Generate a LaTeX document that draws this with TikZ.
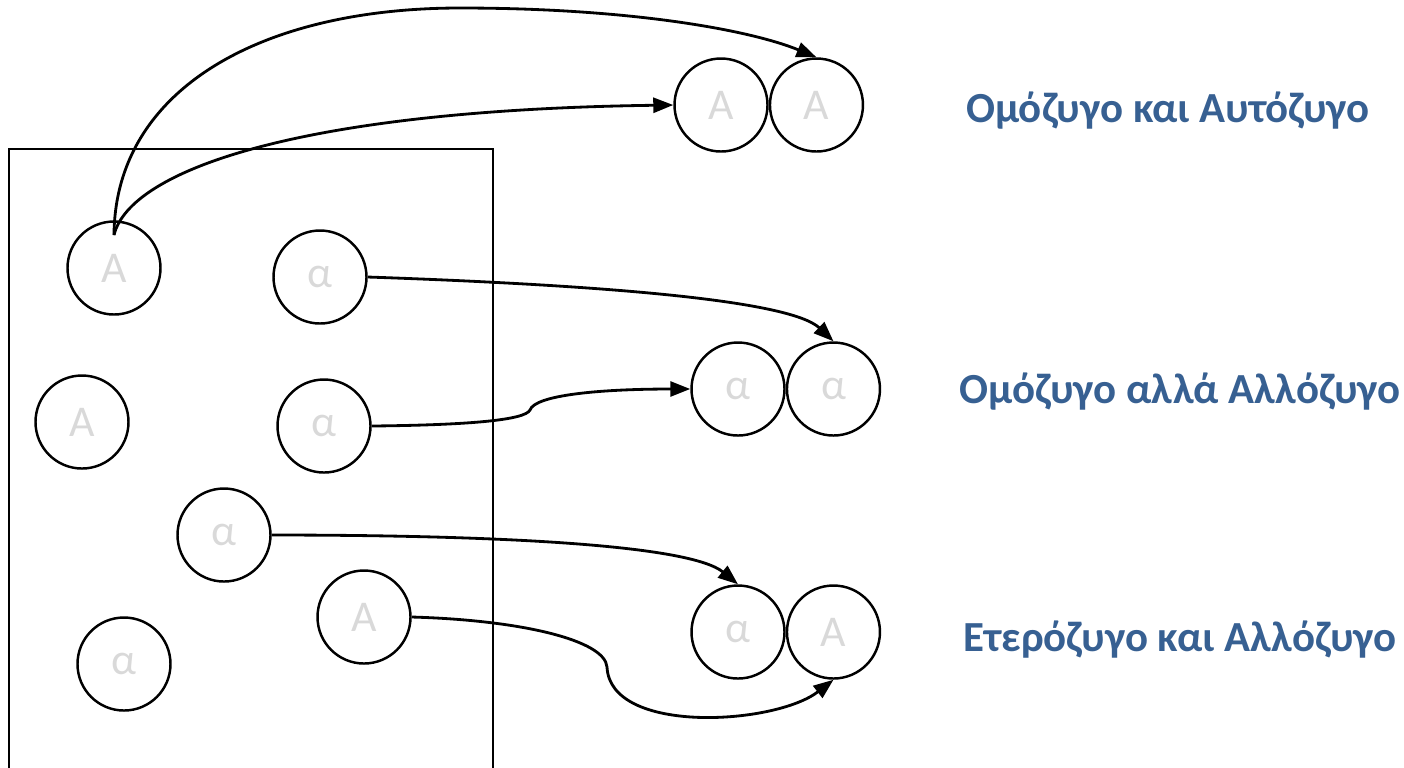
\documentclass[tikz,border=0pt]{standalone}
\usepackage{fontspec}
\setmainfont{Carlito}
\usetikzlibrary{positioning,arrows.meta}
\definecolor{allelegray}{HTML}{D9D9D9}
\definecolor{labelblue}{HTML}{376092}

\begin{document}
\begin{tikzpicture}[
		allele/.style={circle, draw, line width=0.7pt, minimum size=0.93cm, inner sep=0pt, text=allelegray, font=\fontsize{12.5}{14}\selectfont},
		pairlabel/.style={text=labelblue, font=\fontsize{12.2}{14}\selectfont\bfseries},
		>={Triangle[length=2mm, width=1.5mm]}
	]
				\useasboundingbox (0,0) rectangle (14.04,-7.67);
				\clip (0,0) rectangle (14.04,-7.67);
				\draw[line width=0.6pt] (0.09,-1.49) rectangle (4.93,-8);
				% gametes
				\node[allele] (A1) at (1.14, -2.68) {A};
				\node[allele] (a1) at (3.20, -2.77) {α};
				\node[allele] (A2) at (0.82, -4.22) {A};
				\node[allele] (a2) at (3.24, -4.26) {α};
				\node[allele] (a3) at (2.24, -5.35) {α};
				\node[allele] (A3) at (3.64, -6.17) {A};
				\node[allele] (a4) at (1.24, -6.64) {α};
				% pairs
				\node[allele] (P1) at (7.21, -1.05) {A};
				\node[allele, right=0pt of P1] (P2) {A};
				\node[allele] (Q1) at (7.38, -3.89) {α};
				\node[allele, right=0pt of Q1] (Q2) {α};
				\node[allele] (R1) at (7.38, -6.32) {α};
				\node[allele, right=0pt of R1] (R2) {A};
				\node[pairlabel] (L1) at (11.68, -1.11) {Ομόζυγο και Αυτόζυγο};
				\node[pairlabel] (L2) at (11.80, -3.92) {Ομόζυγο αλλά Αλλόζυγο};
				\node[pairlabel] (L3) at (11.80, -6.40) {Ετερόζυγο και Αλλόζυγο};
				\coordinate (A1in) at ([yshift=0.33cm]A1.center);
				\draw[->, line width=0.8pt] (A1in) .. controls (1.15,-0.9) and (2.6,-0.08) .. (4.6,-0.08) .. controls (6.3,-0.08) and (7.5,-0.3) .. (P2.north);
				\draw[->, line width=0.8pt] (A1in) .. controls (1.3,-1.7) and (3.0,-1.1) .. (P1.west);
				\draw[->, line width=0.8pt] (a1.east) .. controls (6.0,-2.85) and (7.9,-3.0) .. (Q2.north);
				\draw[->, line width=0.8pt] (a2.east) .. controls (4.7,-4.25) and (5.25,-4.2) .. (5.3,-4.1) .. controls (5.35,-3.95) and (6.0,-3.89) .. (Q1.west);
				\draw[->, line width=0.8pt] (a3.east) .. controls (5.0,-5.35) and (6.9,-5.45) .. (R1.north);
				\draw[->, line width=0.8pt] (A3.east) .. controls (5.2,-6.2) and (6.05,-6.4) .. (6.07,-6.67) .. controls (6.1,-7.35) and (7.75,-7.25) .. (R2.south);
\end{tikzpicture}
\end{document}
